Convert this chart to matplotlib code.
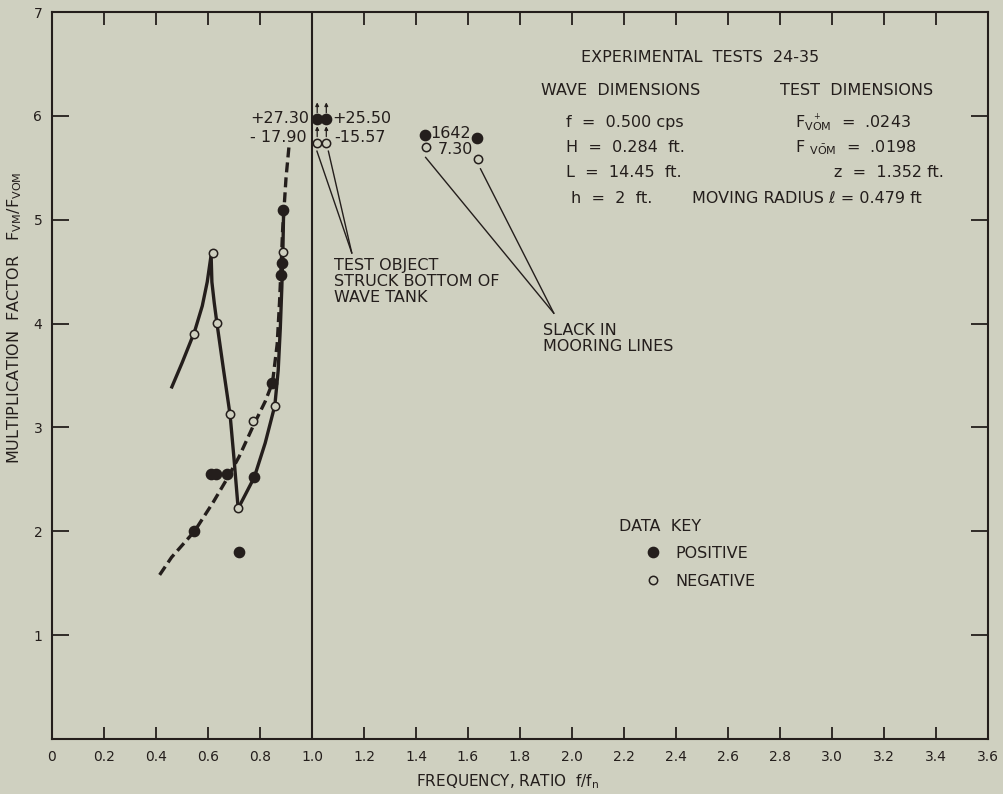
import matplotlib
matplotlib.use("Agg")
import matplotlib.pyplot as plt
from matplotlib.lines import Line2D

plt.rcParams['font.family'] = ['DejaVu Sans']
plt.rcParams['mathtext.fontset'] = 'dejavusans'

BG = '#cfd0c0'
INK = '#241e1c'

# ---------------- data ----------------
x_ticks = [0, 0.2, 0.4, 0.6, 0.8, 1.0, 1.2, 1.4, 1.6, 1.8, 2.0, 2.2, 2.4, 2.6, 2.8, 3.0, 3.2, 3.4, 3.6]
x_tick_labels = ['0', '0.2', '0.4', '0.6', '0.8', '1.0', '1.2', '1.4', '1.6', '1.8', '2.0',
                 '2.2', '2.4', '2.6', '2.8', '3.0', '3.2', '3.4', '3.6']
y_ticks = [1, 2, 3, 4, 5, 6, 7]
y_tick_labels = ['1', '2', '3', '4', '5', '6', '7']

# positive (filled) points
pos_x = [0.548, 0.610, 0.632, 0.672, 0.720, 0.778, 0.848, 0.882, 0.886, 0.890]
pos_y = [2.00, 2.55, 2.55, 2.55, 1.80, 2.52, 3.43, 4.47, 4.58, 5.09]
# negative (open) points
neg_x = [0.548, 0.618, 0.634, 0.685, 0.716, 0.775, 0.857, 0.888]
neg_y = [3.90, 4.68, 4.01, 3.125, 2.22, 3.06, 3.21, 4.69]

# test object struck bottom (values off scale)
struck_x = [1.020, 1.055]
struck_pos_y = [5.97, 5.97]
struck_neg_y = [5.74, 5.74]
struck_pos_labels = ['+27.30', '+25.50']
struck_neg_labels = ['- 17.90', '-15.57']

# slack in mooring lines
slack_pos_x = [1.433, 1.633]
slack_pos_y = [5.82, 5.79]
slack_neg_x = [1.438, 1.637]
slack_neg_y = [5.70, 5.58]
slack_labels = ['1642', '7.30']

# hand-drawn fitted curves
curve_a_x = [0.461, 0.500, 0.548, 0.578, 0.597, 0.612, 0.615, 0.624, 0.634, 0.660, 0.685, 0.700, 0.716]
curve_a_y = [3.39, 3.62, 3.92, 4.17, 4.40, 4.66, 4.40, 4.20, 4.01, 3.55, 3.12, 2.70, 2.22]
curve_b_x = [0.716, 0.745, 0.778, 0.820, 0.857, 0.870, 0.878, 0.884, 0.888, 0.891]
curve_b_y = [2.22, 2.36, 2.52, 2.85, 3.21, 3.55, 3.95, 4.35, 4.70, 5.10]
curve_d_x = [0.414, 0.460, 0.548, 0.620, 0.672, 0.720, 0.775, 0.820, 0.848, 0.866, 0.875, 0.882, 0.887, 0.892, 0.900, 0.912]
curve_d_y = [1.58, 1.75, 2.00, 2.28, 2.50, 2.72, 3.02, 3.25, 3.43, 3.80, 4.20, 4.60, 4.90, 5.09, 5.40, 5.72]

# ---------------- figure ----------------
fig = plt.figure(figsize=(10.04, 7.94), dpi=100, facecolor=BG)
ax = fig.add_axes([52 / 1004, 55 / 794, 936 / 1004, 727 / 794], facecolor=BG)
ax.set_xlim(0, 3.6)
ax.set_ylim(0, 7)

for s in ax.spines.values():
    s.set_linewidth(1.5)
    s.set_color(INK)

ax.set_xticks(x_ticks)
ax.set_xticklabels(x_tick_labels)
ax.set_yticks(y_ticks)
ax.set_yticklabels(y_tick_labels)
ax.tick_params(axis='x', direction='in', length=9, width=1.3, top=True, labeltop=False,
               pad=8, labelsize=10, colors=INK)
ax.tick_params(axis='y', direction='in', length=12, width=1.3, right=True,
               pad=7, labelsize=10, colors=INK)

ax.axvline(1.0, color=INK, lw=1.5, zorder=1)

ax.set_xlabel('FREQUENCY, RATIO  f/f$_\\mathrm{n}$', fontsize=11, color=INK)
ax.xaxis.set_label_coords(0.487, -0.046)
ax.set_ylabel('MULTIPLICATION  FACTOR   F$_{\\mathrm{VM}}$/F$_{\\mathrm{VOM}}$', fontsize=11.5, color=INK)
ax.yaxis.set_label_coords(-0.030, 0.579)

# curves
ax.plot(curve_a_x, curve_a_y, color=INK, lw=2.4, solid_joinstyle='round', zorder=2)
ax.plot(curve_b_x, curve_b_y, color=INK, lw=2.4, solid_joinstyle='round', zorder=2)
ax.plot(curve_d_x, curve_d_y, color=INK, lw=2.4, dashes=(3, 1.5), zorder=2)

# points
filled = dict(marker='o', linestyle='none', ms=7.4, mfc=INK, mec=INK, zorder=4)
hollow = dict(marker='o', linestyle='none', ms=6.0, mfc=BG, mec=INK, mew=1.1, zorder=4)
ax.plot(pos_x, pos_y, **filled)
ax.plot(neg_x, neg_y, **hollow)
ax.plot(struck_x, struck_pos_y, **filled)
ax.plot(struck_x, struck_neg_y, **hollow)
ax.plot(slack_pos_x, slack_pos_y, **filled)
ax.plot(slack_neg_x, slack_neg_y, **hollow)

# arrows for off-scale values
for xx, yp, yn in zip(struck_x, struck_pos_y, struck_neg_y):
    for yy in (yp, yn):
        ax.annotate('', xy=(xx, yy + 0.16), xytext=(xx, yy + 0.06),
                    arrowprops=dict(arrowstyle='-|>', color=INK, lw=0.9,
                                    mutation_scale=5, shrinkA=0, shrinkB=0))

fs = 11.5
ax.text(0.989, struck_pos_y[0], struck_pos_labels[0], ha='right', va='center', fontsize=fs, color=INK)
ax.text(0.981, struck_neg_y[0] + 0.05, struck_neg_labels[0], ha='right', va='center', fontsize=fs, color=INK)
ax.text(1.077, struck_pos_y[1], struck_pos_labels[1], ha='left', va='center', fontsize=fs, color=INK)
ax.text(1.084, struck_neg_y[1] + 0.05, struck_neg_labels[1], ha='left', va='center', fontsize=fs, color=INK)

ax.text(1.456, 5.827, slack_labels[0], ha='left', va='center', fontsize=fs, color=INK)
ax.text(1.483, 5.673, slack_labels[1], ha='left', va='center', fontsize=fs, color=INK)

# leader lines
for x0 in (1.019, 1.063):
    ax.plot([x0, 1.153], [5.66, 4.68], color=INK, lw=1.0, zorder=2)
ax.plot([1.437, 1.93], [5.60, 4.10], color=INK, lw=1.0, zorder=2)
ax.plot([1.648, 1.93], [5.49, 4.10], color=INK, lw=1.0, zorder=2)

ax.text(1.084, 4.558, 'TEST OBJECT', ha='left', va='center', fontsize=fs, color=INK)
ax.text(1.084, 4.404, 'STRUCK BOTTOM OF', ha='left', va='center', fontsize=fs, color=INK)
ax.text(1.084, 4.250, 'WAVE TANK', ha='left', va='center', fontsize=fs, color=INK)

ax.text(1.889, 3.93, 'SLACK IN', ha='left', va='center', fontsize=fs, color=INK)
ax.text(1.889, 3.775, 'MOORING LINES', ha='left', va='center', fontsize=fs, color=INK)

# info block
ax.text(2.034, 6.558, 'EXPERIMENTAL  TESTS  24-35', ha='left', va='center', fontsize=fs, color=INK)
ax.text(1.881, 6.24, 'WAVE  DIMENSIONS', ha='left', va='center', fontsize=fs, color=INK)
ax.text(2.801, 6.24, 'TEST  DIMENSIONS', ha='left', va='center', fontsize=fs, color=INK)
ax.text(1.977, 5.933, 'f  =  0.500 cps', ha='left', va='center', fontsize=fs, color=INK)
ax.text(1.977, 5.692, 'H  =  0.284  ft.', ha='left', va='center', fontsize=fs, color=INK)
ax.text(1.977, 5.452, 'L  =  14.45  ft.', ha='left', va='center', fontsize=fs, color=INK)
ax.text(1.996, 5.202, 'h  =  2  ft.', ha='left', va='center', fontsize=fs, color=INK)
ax.text(2.858, 5.933, 'F$_{\\mathrm{V\\overset{+}{O}M}}$  =  .0243', ha='left', va='center', fontsize=fs, color=INK)
ax.text(2.858, 5.692, 'F $_{\\mathrm{V\\bar{O}M}}$  =  .0198', ha='left', va='center', fontsize=fs, color=INK)
ax.text(3.429, 5.452, 'z  =  1.352 ft.', ha='right', va='center', fontsize=fs, color=INK)
ax.text(2.462, 5.202, 'MOVING RADIUS ℓ = 0.479 ft', ha='left', va='center', fontsize=fs, color=INK)

# data key
ax.text(2.18, 2.05, 'DATA  KEY', ha='left', va='center', fontsize=fs, color=INK)
handles = [Line2D([], [], **filled), Line2D([], [], **hollow)]
ax.legend(handles, ['POSITIVE', 'NEGATIVE'], loc='upper left',
          bbox_to_anchor=(645.5 / 1004, 1 - 546 / 794), bbox_transform=fig.transFigure,
          frameon=False, fontsize=fs, handlelength=1.0, handletextpad=0.9,
          labelspacing=0.8, borderpad=0, borderaxespad=0, labelcolor=INK)

fig.savefig('out.png', dpi=100, facecolor=BG)
